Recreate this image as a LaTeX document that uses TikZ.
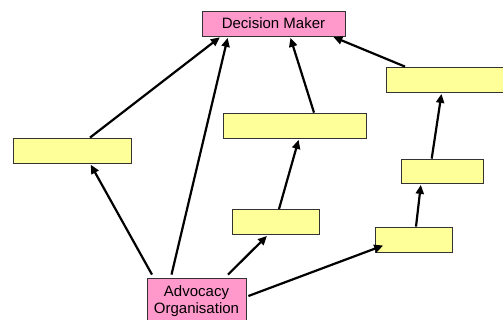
\documentclass[tikz,border=0pt]{standalone}
\usepackage{fontspec}
\setmainfont{Liberation Sans}
\usetikzlibrary{arrows.meta}
\definecolor{rosebox}{HTML}{FF99CC}
\definecolor{lemonbox}{HTML}{FFFF99}
\begin{document}
\begin{tikzpicture}[x=1pt,y=-1pt,
  box/.style={draw=black!80,line width=0.8pt,rectangle,inner sep=0pt,
    font=\fontsize{15}{17.5}\selectfont,align=center},
  actor/.style={box,fill=rosebox},
  blank/.style={box,fill=lemonbox},
  link/.style={line width=2.2pt,-{Triangle[length=9pt,width=8pt]},shorten >=1.5pt}]
\useasboundingbox (0,0) rectangle (503,320);
\begin{scope}
\clip (0,0) rectangle (503,320);
% actors
\node[actor,minimum width=143pt,minimum height=25pt] (dm) at (273.5,23.5) {Decision Maker};
\node[actor,minimum width=99pt,minimum height=50pt] (ao) at (196.5,303) {};
\node[font=\fontsize{15}{17.5}\selectfont,align=center,anchor=north,inner sep=0pt] (aotext) at (196.5,285) {Advocacy\\Organisation};
% empty intermediate boxes
\node[blank,minimum width=118pt,minimum height=25pt] (lb) at (72,150.5) {};
\node[blank,minimum width=143pt,minimum height=25pt] (mb) at (294.5,125.5) {};
\node[blank,minimum width=122pt,minimum height=25pt] (tr) at (447,79.5) {};
\node[blank,minimum width=82pt,minimum height=24pt] (rs) at (442,171) {};
\node[blank,minimum width=87pt,minimum height=25pt] (lm) at (275.5,222) {};
\node[blank,minimum width=77pt,minimum height=25pt] (rl) at (413.5,239.5) {};
% paths of influence
\draw[link] ([xshift=18pt]lb.north) -- ([xshift=-52.5pt]dm.south);
\draw[link] ([xshift=-25pt,yshift=3pt]ao.north) -- ([xshift=-45.5pt]dm.south);
\draw[link] ([xshift=19.5pt]mb.north) -- ([xshift=16.5pt]dm.south);
\draw[link] ([xshift=-42pt]tr.north) -- ([xshift=58.5pt]dm.south);
\draw[link] ([xshift=-44.5pt,yshift=3pt]ao.north) -- ([xshift=18pt]lb.south);
\draw[link] ([xshift=31.5pt,yshift=3pt]ao.north) -- ([xshift=-7.5pt]lm.south);
\draw[link] ([xshift=3.5pt]lm.north) -- ([xshift=4.5pt]mb.south);
\draw[link] ([xshift=2pt,yshift=7pt]ao.east) -- ([xshift=10pt,yshift=-5.5pt]rl.west);
\draw[link] ([xshift=2.5pt]rl.north) -- ([xshift=-21pt]rs.south);
\draw[link] ([xshift=-10.3pt]rs.north) -- ([xshift=-5.3pt]tr.south);
\end{scope}
\end{tikzpicture}
\end{document}
